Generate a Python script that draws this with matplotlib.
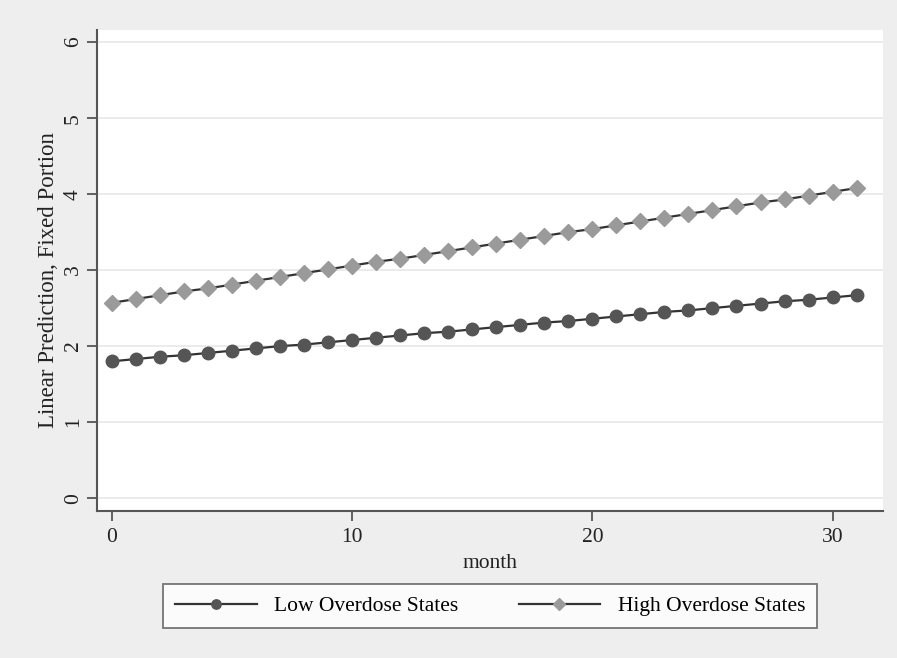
import matplotlib
matplotlib.use("Agg")
import matplotlib.pyplot as plt

month = list(range(32))
low_states = [1.80, 1.83, 1.86, 1.88, 1.91, 1.94, 1.97, 2.00, 2.02, 2.05, 2.08,
              2.11, 2.14, 2.17, 2.19, 2.22, 2.25, 2.28, 2.31, 2.33, 2.36, 2.39,
              2.42, 2.45, 2.47, 2.50, 2.53, 2.56, 2.59, 2.61, 2.64, 2.67]
high_states = [2.57, 2.62, 2.67, 2.72, 2.76, 2.81, 2.86, 2.91, 2.96, 3.01, 3.06,
               3.11, 3.15, 3.20, 3.25, 3.30, 3.35, 3.40, 3.45, 3.50, 3.54, 3.59,
               3.64, 3.69, 3.74, 3.79, 3.84, 3.89, 3.93, 3.98, 4.03, 4.08]
x_ticks = [0, 10, 20, 30]
y_ticks = [0, 1, 2, 3, 4, 5, 6]
labels = ["Low Overdose States", "High Overdose States"]

plt.rcParams['font.family'] = ['Liberation Serif', 'DejaVu Serif']

W, H = 897, 658
fig = plt.figure(figsize=(W / 100, H / 100), dpi=100, facecolor="#eeeeee")
ax = fig.add_axes([97 / W, 1 - 511 / H, (883 - 97) / W, (511 - 30) / H])
ax.set_facecolor("white")

ax.plot(month, low_states, color="#333333", lw=1.6, marker="o", ms=9,
        mfc="#555555", mec="#555555", label=labels[0], zorder=3)
ax.plot(month, high_states, color="#333333", lw=1.6, marker="D", ms=8,
        mfc="#9a9a9a", mec="#9a9a9a", label=labels[1], zorder=3)

ax.set_xlim(-0.625, 32.1)
ax.set_ylim(-0.17, 6.16)
ax.set_xticks(x_ticks)
ax.set_yticks(y_ticks)
ax.grid(axis="y", color="#e8e8e8", lw=1.2)
ax.set_axisbelow(True)

for s in ["top", "right"]:
    ax.spines[s].set_visible(False)
for s in ["left", "bottom"]:
    ax.spines[s].set_color("#555555")
    ax.spines[s].set_linewidth(1.5)

ax.tick_params(axis="both", length=7, width=1.3, color="#555555",
               labelsize=15.5, labelcolor="#222222")
ax.tick_params(axis="x", pad=5)
ax.tick_params(axis="y", pad=3)
for t in ax.get_yticklabels():
    t.set_rotation(90)
    t.set_va("center")

ax.set_xlabel("month", fontsize=15.5, color="#222222", va="center")
ax.xaxis.set_label_coords(0.5, (511 - 563) / 481)
ax.set_ylabel("Linear Prediction, Fixed Portion", fontsize=16.5,
              color="#222222", va="center")
ax.yaxis.set_label_coords((48 - 97) / 786, (511 - 280) / 481)

leg = fig.legend(loc="center", bbox_to_anchor=(490 / W, 1 - 606 / H), ncol=2,
                 fontsize=15.5, frameon=True, fancybox=False, handlelength=3.8,
                 columnspacing=2.8, borderpad=0.55, handletextpad=0.8,
                 markerscale=0.75)
leg.get_frame().set_edgecolor("#555555")
leg.get_frame().set_linewidth(1.3)
leg.get_frame().set_facecolor("white")

fig.savefig("out.png", dpi=100, facecolor=fig.get_facecolor())
